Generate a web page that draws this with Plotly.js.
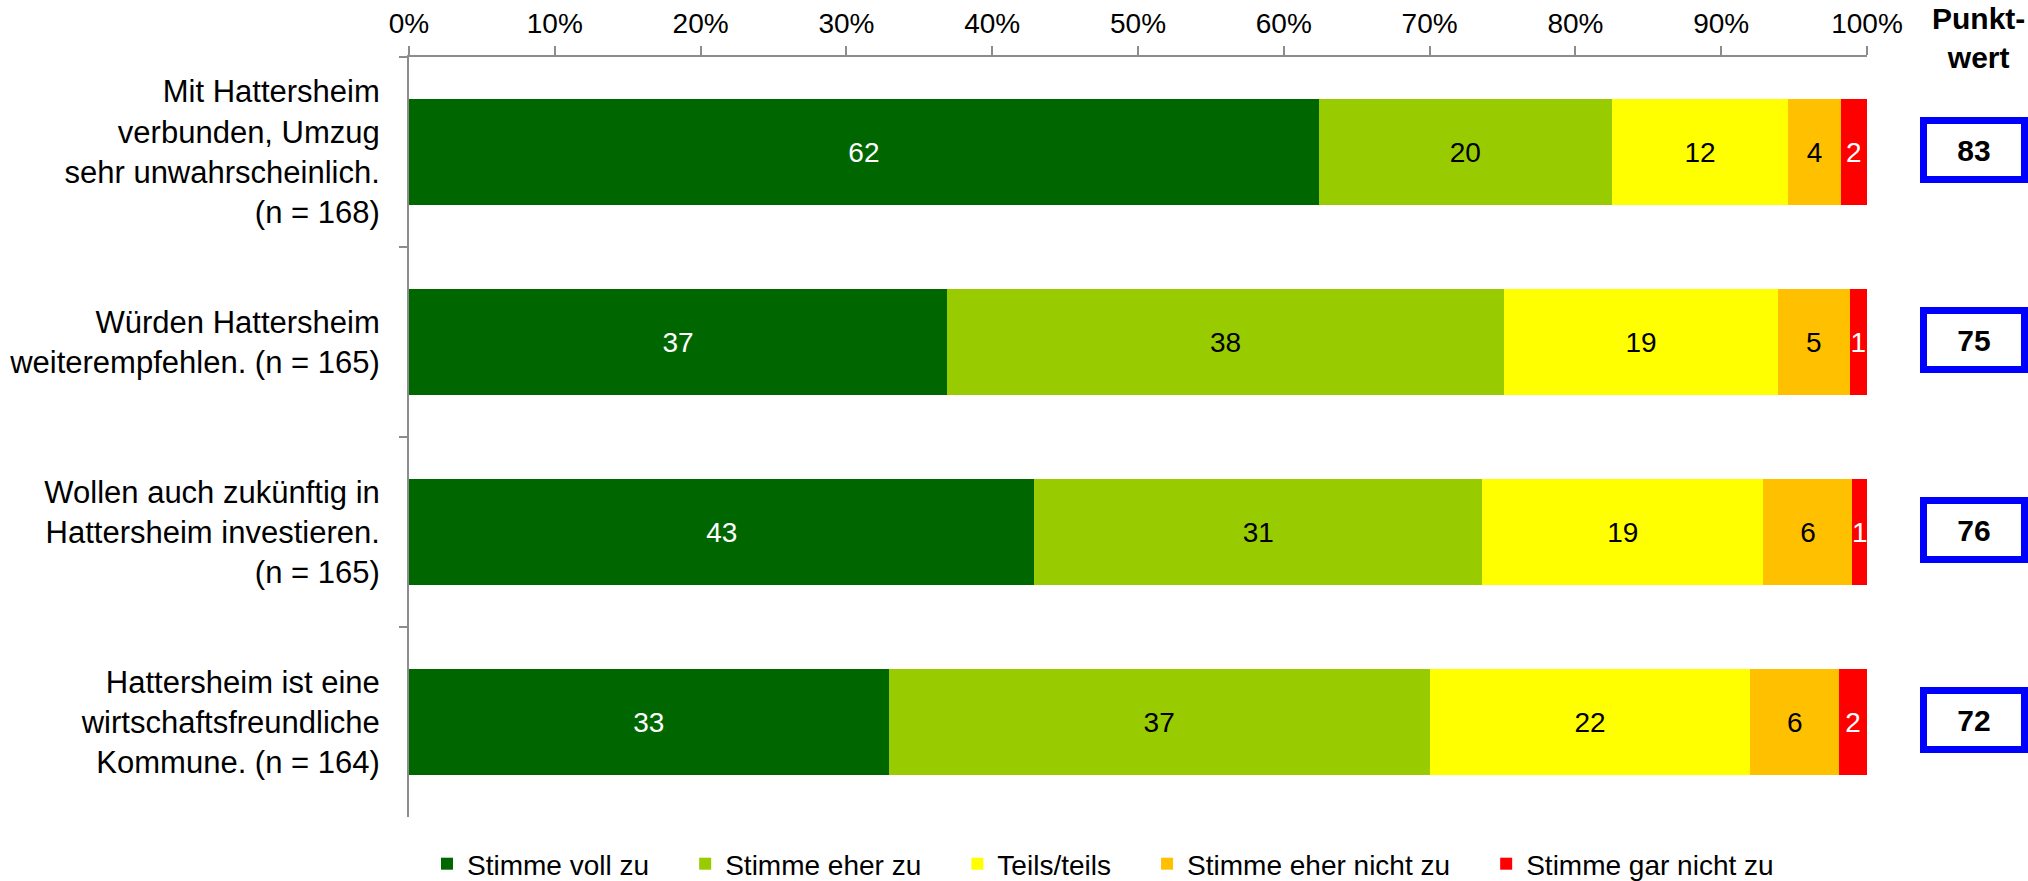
<!DOCTYPE html>
<html>
<head>
<meta charset="utf-8">
<script src="https://cdn.plot.ly/plotly-3.0.1.min.js"></script>
<style>html,body{margin:0;padding:0;background:#fff;}#chart{width:2028px;height:881px;}</style>
</head>
<body>
<div id="chart"></div>
<script>
const categories = [
  "Mit Hattersheim<br>verbunden, Umzug<br>sehr unwahrscheinlich.<br>(n = 168)",
  "Würden Hattersheim<br>weiterempfehlen. (n = 165)",
  "Wollen auch zukünftig in<br>Hattersheim investieren.<br>(n = 165)",
  "Hattersheim ist eine<br>wirtschaftsfreundliche<br>Kommune. (n = 164)"
];
const seriesNames = ["Stimme voll zu", "Stimme eher zu", "Teils/teils", "Stimme eher nicht zu", "Stimme gar nicht zu"];
const stimmeVoll = [62.4, 36.9, 42.9, 32.9];
const stimmeEher = [20.1, 38.2, 30.7, 37.1];
const teilsTeils = [12.1, 18.8, 19.3, 22.0];
const eherNicht = [3.6, 4.9, 6.1, 6.1];
const garNicht = [1.8, 1.2, 1.0, 1.9];
const punktwert = [83, 75, 76, 72];
const xTickVals = [0, 10, 20, 30, 40, 50, 60, 70, 80, 90, 100];
const xTickText = ["0%", "10%", "20%", "30%", "40%", "50%", "60%", "70%", "80%", "90%", "100%"];

const colors = ["#006600", "#99CC00", "#FFFF00", "#FFC000", "#FF0000"];
const textColors = ["#FFFFFF", "#000000", "#000000", "#000000", "#FFFFFF"];
const allSeries = [stimmeVoll, stimmeEher, teilsTeils, eherNicht, garNicht];
const FONT = "Liberation Sans, Arial, sans-serif";
const pad = "\u00a0\u00a0\u00a0\u00a0";

const traces = allSeries.map((vals, i) => ({
  type: "bar",
  orientation: "h",
  name: seriesNames[i] + (i < 4 ? pad : ""),
  y: categories,
  x: vals,
  marker: { color: colors[i], line: { width: 0 } },
  texttemplate: "%{x:.0f}",
  textposition: "inside",
  insidetextanchor: "middle",
  textangle: 0,
  constraintext: "none",
  textfont: { family: FONT, size: 28, color: textColors[i] },
  hoverinfo: "x+y+name"
}));

const annotations = punktwert.map((v, i) => ({
  xref: "paper", yref: "y",
  x: 1.0734, y: categories[i],
  xanchor: "center", yanchor: "middle",
  text: "<b>" + v + "</b>",
  showarrow: false,
  font: { family: FONT, size: 30, color: "#000" },
  bgcolor: "#FFFFFF",
  bordercolor: "#0000FF",
  borderwidth: 7,
  borderpad: 0,
  width: 94,
  height: 52,
  yshift: 2
}));
annotations.push({
  xref: "paper", yref: "paper",
  x: 1.0768, y: 1.025,
  xanchor: "center", yanchor: "middle",
  text: "<b>Punkt-<br>wert</b>",
  showarrow: false,
  font: { family: FONT, size: 30, color: "#000" }
});

const layout = {
  width: 2028, height: 881,
  margin: { l: 409, r: 161, t: 57, b: 64, pad: 0 },
  paper_bgcolor: "#FFFFFF",
  plot_bgcolor: "#FFFFFF",
  barmode: "stack",
  bargap: 0.437,
  font: { family: FONT, color: "#000" },
  showlegend: true,
  legend: {
    orientation: "h",
    xref: "paper", yref: "container",
    x: 0.476, xanchor: "center",
    y: 0.0193, yanchor: "middle",
    font: { family: FONT, size: 28, color: "#000" },
    traceorder: "normal"
  },
  xaxis: {
    side: "top",
    range: [0, 100],
    tickmode: "array",
    tickvals: xTickVals,
    ticktext: xTickText,
    ticks: "outside",
    ticklen: 9,
    tickwidth: 2,
    tickcolor: "#8C8C8C",
    showline: true,
    linecolor: "#8C8C8C",
    linewidth: 2,
    showgrid: false,
    zeroline: false,
    tickfont: { family: FONT, size: 28, color: "#000" },
    ticklabelstandoff: 2,
    fixedrange: true
  },
  yaxis: {
    type: "category",
    autorange: "reversed",
    tickson: "boundaries",
    ticks: "outside",
    ticklen: 8,
    tickwidth: 2,
    tickcolor: "#8C8C8C",
    showline: true,
    linecolor: "#8C8C8C",
    linewidth: 2,
    showgrid: false,
    zeroline: false,
    tickfont: { family: FONT, size: 31, color: "#000" },
    ticklabelstandoff: 21,
    fixedrange: true
  },
  annotations: annotations
};

Plotly.newPlot("chart", traces, layout, { displayModeBar: false, staticPlot: true });
</script>
</body>
</html>
